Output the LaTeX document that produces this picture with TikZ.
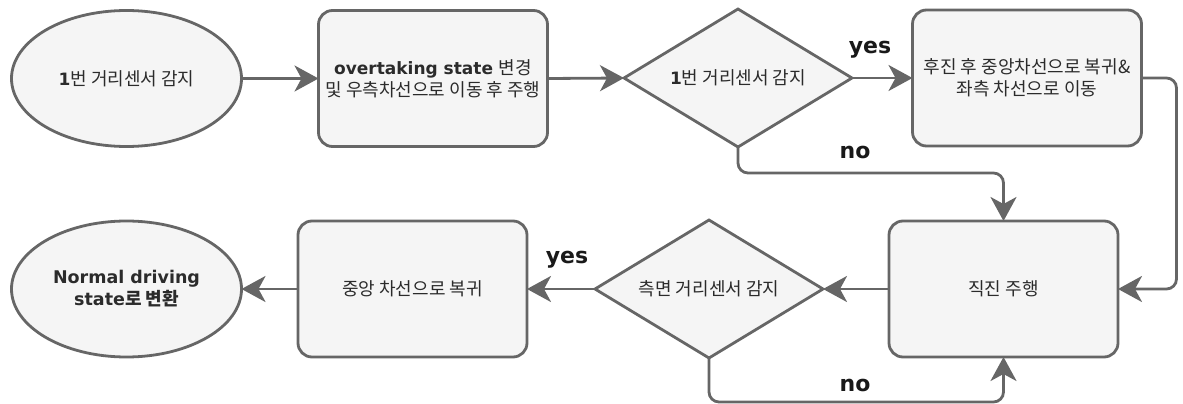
\documentclass[tikz,border=0pt]{standalone}
\usepackage{fontspec}
\setmainfont{DejaVu Sans}
\newfontfamily\kr{Noto Sans CJK KR}
\usetikzlibrary{arrows.meta,shapes.geometric}
\definecolor{linegray}{HTML}{666666}
\definecolor{boxfill}{HTML}{F5F5F5}
\definecolor{textgray}{HTML}{2B2B2B}
\newcommand\latb[1]{{\fontsize{17}{22}\selectfont\bfseries #1}}
\newcommand\hang[1]{{\kr #1}}
\begin{document}
\begin{tikzpicture}[x=1pt,y=-1pt,
  every node/.style={inner sep=0pt,outer sep=0pt},
  flow/.style={draw=linegray, line width=2.8pt, fill=boxfill, text=textgray,
    align=center, font=\fontsize{18}{22}\selectfont},
  procbox/.style={flow, rectangle, rounded corners=14pt,
    minimum width=229pt, minimum height=136pt},
  oval/.style={flow, ellipse, minimum width=230pt, minimum height=136pt},
  decision/.style={flow, diamond, shape aspect=1.64,
    minimum width=228pt, minimum height=138pt},
  conn/.style={draw=linegray, line width=2.8pt, rounded corners=10pt,
    -{Stealth[length=24pt,width=26pt,inset=7pt]}},
  answer/.style={text=black!90, font=\fontsize{22}{26}\selectfont\bfseries}]
\useasboundingbox (0,0) rectangle (1183,404);

% top row
\node[oval]     (detect)   at (126.5,78.5) {\latb{1}\hang{번 거리센서 감지}};
\node[procbox]  (overtake) at (433,78.5)   {\latb{overtaking state} \hang{변경}\\\hang{및 우측차선으로 이동 후 주행}};
\node[decision] (check)    at (738,78)     {\latb{1}\hang{번 거리센서 감지}};
\node[procbox]  (reverse)  at (1027,78)    {\hang{후진 후 중앙차선으로 복귀\&}\\\hang{좌측 차선으로 이동}};

% bottom row
\node[oval]     (normal)   at (126.5,289)  {{\fontsize{17.5}{22}\selectfont\bfseries Normal driving}\\{\fontsize{17.5}{22}\selectfont\bfseries state}{\kr\bfseries 로 변환}};
\node[procbox]  (center)   at (412.5,289)  {\hang{중앙 차선으로 복귀}};
\node[decision] (side)     at (709,289)    {\hang{측면 거리센서 감지}};
\node[procbox]  (straight) at (1003.5,289) {\hang{직진 주행}};

% connectors
\draw[conn] (detect.east) -- (overtake.west);
\draw[conn] (overtake.east) -- (check.west);
\draw[conn] (check.east) -- (reverse.west);
\draw[conn] (check.south) -- ++(0,26) -| (straight.north);
\draw[conn] (reverse.east) -- ++(35,0) |- (straight.east);
\draw[conn] (straight.west) -- (side.east);
\draw[conn] (side.west) -- (center.east);
\draw[conn] (center.west) -- (normal.east);
\draw[conn] (side.south) -- ++(0,44) -| (straight.south);

% branch labels
\node[answer] (yestop) at (870,50)  {yes};
\node[answer] (notop)  at (855,152) {no};
\node[answer] (yesbot) at (567,260) {yes};
\node[answer] (nobot)  at (855,385) {no};
\end{tikzpicture}
\end{document}
